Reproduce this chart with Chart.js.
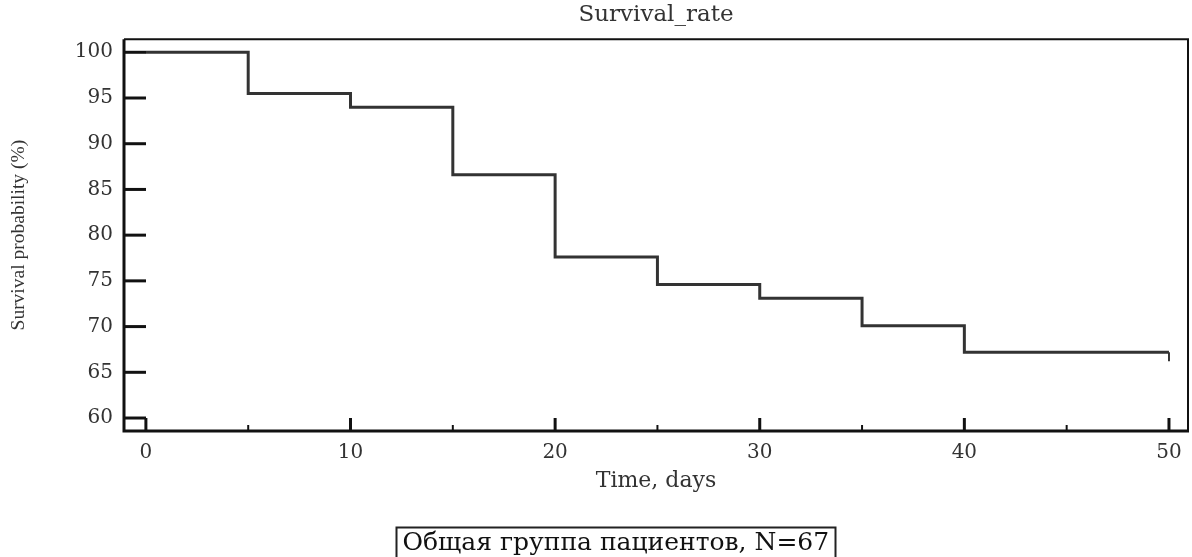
<!DOCTYPE html>
<html>
<head>
<meta charset="utf-8">
<script src="https://cdn.jsdelivr.net/npm/chart.js@4/dist/chart.umd.min.js"></script>
<style>
  html, body { margin: 0; padding: 0; background: #fff; }
  #wrap { width: 1192px; height: 557px; }
</style>
</head>
<body>
<div id="wrap"><canvas id="chart"></canvas></div>
<script>
// Kaplan-Meier steps
const days = [0, 5, 10, 15, 20, 25, 30, 35, 40, 50];
const survival = [100, 95.5, 94.0, 86.6, 77.6, 74.6, 73.1, 70.1, 67.2, 67.2];
// censoring mark at the end
const censorDays = [50, 50];
const censorMark = [67.2, 66.2];

const yTicks = [60, 65, 70, 75, 80, 85, 90, 95, 100];
const xTicks = [0, 10, 20, 30, 40, 50];
const xMinorTicks = [5, 15, 25, 35, 45];

const chartTitle = "Survival_rate";
const xTitle = "Time, days";
const yTitle = "Survival probability (%)";
const groupLabel = "Общая группа пациентов, N=67";

const serif = "'DejaVu Serif', 'Liberation Serif', serif";
const textColor = "#333";

// frame, inward tick marks and the group box
const framePlugin = {
  id: "frame",
  afterDraw(chart) {
    const ctx = chart.ctx;
    const a = chart.chartArea;
    const xs = chart.scales.x, ys = chart.scales.y;
    ctx.save();
    ctx.strokeStyle = "#111";
    ctx.lineCap = "butt";

    // top + right
    ctx.lineWidth = 2;
    ctx.beginPath();
    ctx.moveTo(a.left, a.top);
    ctx.lineTo(a.right, a.top);
    ctx.lineTo(a.right, a.bottom);
    ctx.stroke();

    // left + bottom
    ctx.lineWidth = 3;
    ctx.beginPath();
    ctx.moveTo(a.left, a.top);
    ctx.lineTo(a.left, a.bottom);
    ctx.lineTo(a.right + 1, a.bottom);
    ctx.stroke();

    // y ticks
    ctx.lineWidth = 3;
    yTicks.forEach(v => {
      const y = ys.getPixelForValue(v);
      ctx.beginPath();
      ctx.moveTo(a.left, y);
      ctx.lineTo(a.left + 22, y);
      ctx.stroke();
    });

    // x ticks
    xTicks.forEach(v => {
      const x = xs.getPixelForValue(v);
      ctx.lineWidth = 3;
      ctx.beginPath();
      ctx.moveTo(x, a.bottom);
      ctx.lineTo(x, a.bottom - 13);
      ctx.stroke();
    });
    xMinorTicks.forEach(v => {
      const x = xs.getPixelForValue(v);
      ctx.lineWidth = 2;
      ctx.beginPath();
      ctx.moveTo(x, a.bottom);
      ctx.lineTo(x, a.bottom - 6);
      ctx.stroke();
    });

    // group box below the plot
    ctx.font = "25px " + serif;
    const w = ctx.measureText(groupLabel).width;
    const cx = (a.left + a.right) / 2 - 40;
    const bx = Math.round(cx - w / 2 - 7) + 0.5;
    ctx.lineWidth = 2;
    ctx.strokeStyle = "#222";
    ctx.strokeRect(bx, 527.5, Math.round(w + 12), 40);
    ctx.fillStyle = "#111";
    ctx.textBaseline = "middle";
    ctx.textAlign = "left";
    ctx.fillText(groupLabel, bx + 6, 543);
    ctx.restore();
  }
};

new Chart(document.getElementById("chart"), {
  type: "line",
  data: {
    datasets: [
      {
        label: groupLabel,
        data: days.map((d, i) => ({ x: d, y: survival[i] })),
        stepped: "before",
        borderColor: "#333",
        borderWidth: 3,
        pointRadius: 0,
        fill: false
      },
      {
        label: "censored",
        data: censorDays.map((d, i) => ({ x: d, y: censorMark[i] })),
        borderColor: "#333",
        borderWidth: 2,
        pointRadius: 0,
        fill: false
      }
    ]
  },
  options: {
    responsive: true,
    maintainAspectRatio: false,
    animation: false,
    layout: { padding: { left: 0, right: 4, top: 0, bottom: 46 } },
    plugins: {
      legend: { display: false },
      tooltip: { enabled: false },
      title: {
        display: true,
        text: chartTitle,
        fullSize: false,
        color: textColor,
        font: { family: serif, size: 23, weight: "normal", lineHeight: 1.1 },
        padding: { top: 2, bottom: 12 }
      }
    },
    scales: {
      x: {
        type: "linear",
        min: -1.07,
        max: 50.93,
        afterBuildTicks: s => { s.ticks = xTicks.map(v => ({ value: v })); },
        afterFit: s => { s.height = 80; },
        grid: { display: false, drawTicks: false },
        border: { display: false },
        ticks: {
          color: textColor,
          font: { family: serif, size: 20 },
          padding: 10,
          maxRotation: 0
        },
        title: {
          display: true,
          text: xTitle,
          color: textColor,
          font: { family: serif, size: 22 },
          padding: { top: 0, bottom: 17 }
        }
      },
      y: {
        type: "linear",
        min: 58.58,
        max: 101.42,
        afterBuildTicks: s => { s.ticks = yTicks.map(v => ({ value: v })); },
        afterFit: s => { s.width = 124; },
        grid: { display: false, drawTicks: false },
        border: { display: false },
        ticks: {
          color: textColor,
          font: { family: serif, size: 20 },
          padding: 11
        },
        title: {
          display: true,
          text: yTitle,
          color: textColor,
          font: { family: "'Liberation Serif', serif", size: 19.5 },
          padding: { top: 7, bottom: 0 }
        }
      }
    }
  },
  plugins: [framePlugin]
});
</script>
</body>
</html>
